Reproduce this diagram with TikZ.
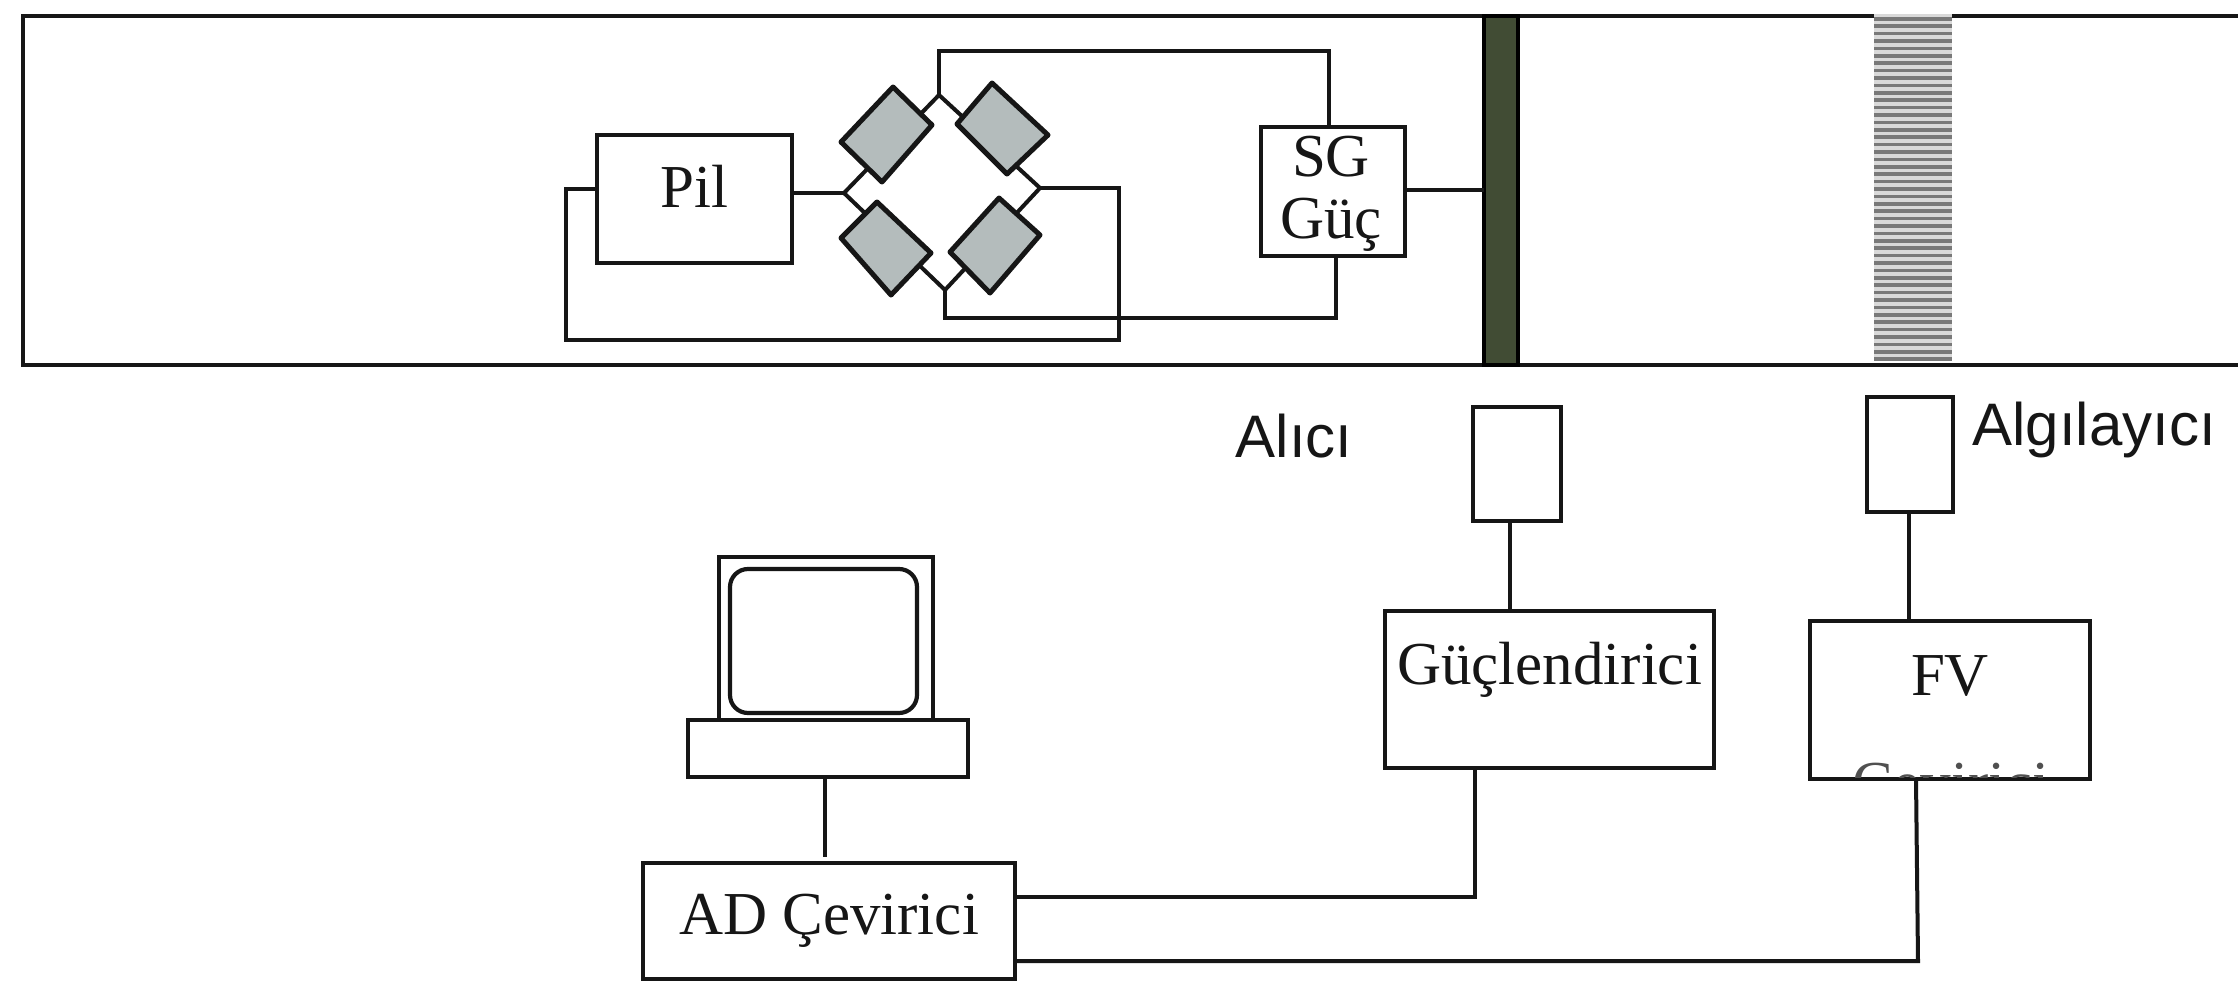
\documentclass[tikz,border=0pt]{standalone}
\usepackage{fontspec}
\setmainfont{Liberation Serif}
\newfontfamily\labelfont{Liberation Sans}
\definecolor{ink}{HTML}{161616}
\definecolor{gaugefill}{HTML}{B4BCBC}
\definecolor{barfill}{HTML}{414C34}
\tikzset{
  wire/.style={draw=ink,line width=4pt,line join=miter},
  rail/.style={draw=ink,line width=4.4pt},
  gauge/.style={draw=ink,fill=gaugefill,line width=5pt,line join=round},
  boxnode/.style={draw=ink,line width=4.2pt,fill=white,inner sep=0pt,outer sep=0pt,text=ink,font=\fontsize{61}{62}\selectfont},
  serifword/.style={inner sep=0pt,outer sep=0pt,text=ink,font=\fontsize{61}{62}\selectfont,align=center},
  sansword/.style={inner sep=0pt,outer sep=0pt,anchor=base,text=ink,font=\labelfont\fontsize{60}{62}\selectfont}
}
\newcommand{\bx}[7]{%
  \pgfmathsetmacro{\bw}{#4-#2}\pgfmathsetmacro{\bh}{#5-#3}%
  \pgfmathsetmacro{\bcx}{(#2+#4)/2}\pgfmathsetmacro{\bcy}{(#3+#5)/2}%
  \pgfmathsetmacro{\boff}{#6-\bcy}%
  \pgfmathsetmacro{\tht}{20+\boff}\pgfmathsetmacro{\tdp}{20-\boff}%
  \node[boxnode,minimum width=\bw pt,minimum height=\bh pt,text height=\tht pt,text depth=\tdp pt] (#1) at (\bcx,\bcy) {#7};}
\begin{document}
\begin{tikzpicture}[x=1pt,y=-1pt]
\useasboundingbox (0,0) rectangle (2238,982);
\fill[white] (0,0) rectangle (2238,982);
% tube
\coordinate (railTL) at (23,16);
\coordinate (railTR) at (2238,16);
\coordinate (railBL) at (23,365);
\coordinate (railBR) at (2238,365);
\draw[rail] (railTR) -- (railTL) -- (railBL) -- (railBR);
% dark band
\node[draw=black,line width=3.5pt,fill=barfill,minimum width=34pt,minimum height=349pt,inner sep=0pt,outer sep=0pt] (bar) at (1501,190.5) {};
% striped band
\fill[gray!30] (1874,14) rectangle (1952,361);
\foreach \k in {0,...,46} {\fill[gray!95!black] (1874,{17+7.4*\k}) rectangle (1952,{20.6+7.4*\k});}
% boxes of the top part
\bx{pil}{597}{135}{792}{263}{207}{Pil}
\bx{sg}{1261}{127}{1405}{256}{191}{}
\node[serifword] (sgtext) at (1331,194) {SG\\Güç};
% bridge
\coordinate (bT) at (939,95);
\coordinate (bL) at (844,193);
\coordinate (bR) at (1040,188);
\coordinate (bB) at (945,290);
\draw[wire] (bT) -- (bL) -- (bB) -- (bR) -- cycle;
\filldraw[gauge] (893,87) -- (932,125) -- (882,182) -- (841,142) -- cycle;
\filldraw[gauge] (992,83) -- (1048,135) -- (1007,174) -- (957,124) -- cycle;
\filldraw[gauge] (877,202) -- (931,253) -- (891,295) -- (841,238) -- cycle;
\filldraw[gauge] (999,198) -- (1040,235) -- (990,293) -- (950,252) -- cycle;
% top wiring
\coordinate (wTop) at (1329,51);
\coordinate (wBot) at (1336,318);
\coordinate (wRight) at (1119,340);
\coordinate (wLeft) at (566,189);
\coordinate (wSg) at (1405,190);
\draw[wire] (bT) -- (bT |- wTop) -- (wTop) -- (wTop |- sg.north);
\draw[wire] (bB) -- (bB |- wBot) -- (wBot) -- (wBot |- sg.south);
\draw[wire] (bR) -- (bR -| wRight) -- (wRight) -- (wRight -| wLeft) -- (wLeft) -- (wLeft -| pil.west);
\draw[wire] (bL) -- (bL -| pil.east);
\draw[wire] (wSg -| sg.east) -- (wSg -| bar.west);
% lower part
\node[sansword] (alici) at (1294,457) {Alıcı};
\node[sansword] (algi) at (2094,445) {Algılayıcı};
\bx{rx}{1473}{407}{1561}{521}{464}{}
\bx{det}{1867}{397}{1953}{512}{454}{}
\bx{amp}{1385}{611}{1714}{768}{684}{Güçlendirici}
\bx{fv}{1810}{621}{2090}{779}{695}{FV}
\begin{scope}
\clip (1810,621) rectangle (2090,777);
\node[serifword,anchor=base,text=ink!75] (fvword) at (1951,803) {Çevirici};
\end{scope}
\bx{ad}{643}{863}{1015}{979}{934}{AD Çevirici}
\bx{base}{688}{720}{968}{777}{748}{}
\bx{mon}{719}{557}{933}{720}{638}{}
\node[draw=ink,line width=4.2pt,rounded corners=18pt,minimum width=187pt,minimum height=144pt,inner sep=0pt,outer sep=0pt] (screen) at (823.5,641) {};
\coordinate (adTop) at (825,857);
\coordinate (adA) at (1475,897);
\coordinate (adB) at (1918,961);
\coordinate (wRx) at (1510,0);
\coordinate (wDet) at (1909,0);
\coordinate (wFv) at (1916,0);
\draw[wire] (base.south -| adTop) -- (adTop);
\draw[wire] (amp.south -| adA) -- (adA) -- (adA -| ad.east);
\draw[wire] (fv.south -| wFv) -- (adB) -- (adB -| ad.east);
\draw[wire] (rx.south -| wRx) -- (amp.north -| wRx);
\draw[wire] (det.south -| wDet) -- (fv.north -| wDet);
\end{tikzpicture}
\end{document}
